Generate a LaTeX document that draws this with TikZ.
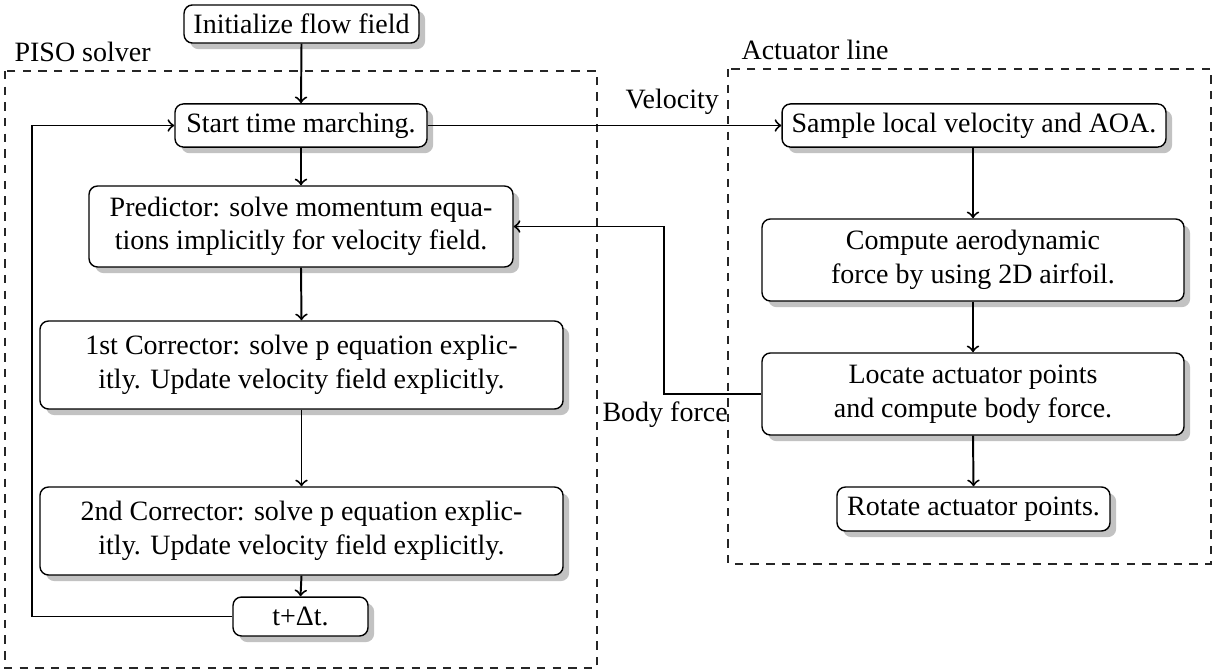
\documentclass[tikz,border=0pt]{standalone}
\usepackage{fontspec}
\setmainfont{Liberation Serif}
\usetikzlibrary{shadows,calc}
\begin{document}
\begin{tikzpicture}[x=0.35714pt,y=-0.35714pt,
  box/.style={draw,line width=0.5pt,fill=white,rounded corners=3pt,align=center,
    inner sep=0pt,drop shadow={opacity=1,fill=black!24,shadow xshift=2.2pt,shadow yshift=-2.2pt},
    font=\fontsize{10}{12}\selectfont},
  lab/.style={inner sep=0pt,anchor=base west,font=\fontsize{10}{12}\selectfont},
  conn/.style={line width=0.7pt,->},
  grp/.style={line width=0.4pt,dash pattern=on 3pt off 2.6pt,black!85}]
\useasboundingbox (0,0) rectangle (1215,671);
% group frames
\draw[grp] (5,71) coordinate (pisoNW) rectangle (597,668) coordinate (pisoSE);
\draw[grp] (728,69) coordinate (actNW) rectangle (1211,564) coordinate (actSE);
\node[lab] (pisolab) at (14,61) {PISO solver};
\node[lab] (actlab) at (741,59) {Actuator line};
% PISO boxes
\node[box,minimum width=83.9pt,minimum height=13.6pt] (init) at (301.5,24) {Initialize flow field};
\node[box,minimum width=90pt,minimum height=15.4pt] (start) at (301,125.5) {Start time marching.};
\node[box,minimum width=151.4pt,minimum height=28.9pt] (pred) at (301,226.5) {Predictor:  solve momentum equa-\\tions implicitly for velocity field.};
\node[box,minimum width=186.8pt,minimum height=31.4pt] (corr1) at (301.5,365) {1st Corrector:  solve p equation explic-\\itly.  Update velocity field explicitly.};
\node[box,minimum width=186.8pt,minimum height=31.4pt] (corr2) at (301.5,531) {2nd Corrector:  solve p equation explic-\\itly.  Update velocity field explicitly.};
\node[box,minimum width=48.2pt,minimum height=13.9pt] (tdt) at (300.5,616.5) {t+Δt.};
% Actuator boxes
\node[box,minimum width=137.1pt,minimum height=15.4pt] (sample) at (974,125.5) {Sample local velocity and AOA.};
\node[box,minimum width=150.7pt,minimum height=29.3pt] (comp) at (973,260) {Compute aerodynamic\\force by using 2D airfoil.};
\node[box,minimum width=150.7pt,minimum height=29.3pt] (locate) at (973,394) {Locate actuator points\\and compute body force.};
\node[box,minimum width=97.5pt,minimum height=15.7pt] (rot) at (973.5,509) {Rotate actuator points.};
% connector labels
\node[lab] (vel) at (625,108.5) {Velocity};
\node[lab] (bf) at (602,421) {Body force};
% connectors
\coordinate (loopx) at (32,0);
\coordinate (bfx) at (664,0);
\draw[conn] (init.south) -- (start.north);
\draw[conn] (start.south) -- (pred.north);
\draw[conn] (pred.south) -- (corr1.north);
\draw[conn] (corr1.south) -- (corr2.north);
\draw[conn] (corr2.south) -- (tdt.north);
\draw[conn] (tdt.west) -- (tdt.west -| loopx) -- (loopx |- start.west) -- (start.west);
\draw[conn] (start.east) -- (sample.west |- start.east);
\draw[conn] (sample.south -| comp.north) -- (comp.north);
\draw[conn] (comp.south) -- (locate.north);
\draw[conn] (locate.south) -- (rot.north);
\draw[conn] (locate.west) -- (locate.west -| bfx) -- (bfx |- pred.east) -- (pred.east);
\end{tikzpicture}
\end{document}
